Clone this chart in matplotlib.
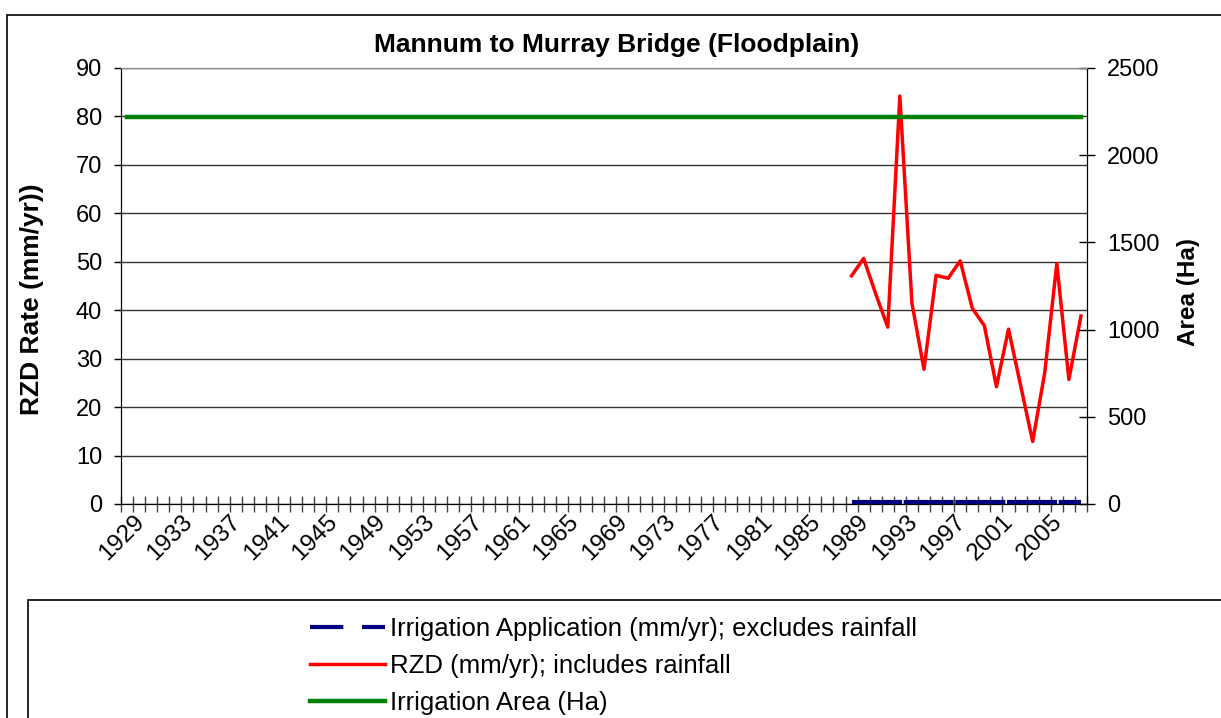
import numpy as np
import matplotlib
matplotlib.use('Agg')
import matplotlib.pyplot as plt
from matplotlib.lines import Line2D
from matplotlib.patches import Rectangle
from matplotlib.transforms import ScaledTranslation

plt.rcParams['font.family'] = ['Liberation Sans', 'DejaVu Sans']

# data
years = list(range(1929, 2009))
rzd_years = list(range(1989, 2009))
rzd = [47.1, 50.7, 43.4, 36.5, 84.2, 41.5, 27.8, 47.2, 46.6, 50.2,
       40.4, 36.8, 24.2, 36.1, 24.5, 12.9, 27.1, 49.6, 25.7, 38.8]
irrig_app = [0.5] * len(rzd_years)
irrig_area = [2220] * len(years)
tick_labels = [str(y) for y in years[::4]]

W, H = 1221, 718
fig = plt.figure(figsize=(W / 100, H / 100), dpi=100)

# outer chart border and legend box (cut off by the image edge)
fig.patches.append(Rectangle((7 / W, -0.1), 1.2, 1 - 15 / H + 0.1, transform=fig.transFigure,
                             fill=False, edgecolor='black', lw=1.2))
fig.patches.append(Rectangle((28 / W, -0.1), 1.2, (718 - 600) / H + 0.1, transform=fig.transFigure,
                             fill=False, edgecolor='black', lw=1.2))

left, right, top, bottom = 121, 1087, 68, 504
ax = fig.add_axes([left / W, (H - bottom) / H, (right - left) / W, (bottom - top) / H])
ax2 = ax.twinx()

xi = {y: i for i, y in enumerate(years)}
rx = [xi[y] for y in rzd_years]

l1, = ax.plot(rx, irrig_app, color='#000080', lw=3, ls=(0, (12, 0.4)), zorder=4)
l2, = ax.plot(rx, rzd, color='#ff0000', lw=2.5, zorder=5)
l3, = ax2.plot(range(len(years)), irrig_area, color='#008000', lw=3.2)

ax.set_xlim(-0.5, len(years) - 0.5)
ax.set_ylim(0, 90)
ax2.set_ylim(0, 2500)
ax.set_yticks(range(0, 91, 10))
ax2.set_yticks(range(0, 2501, 500))
ax.yaxis.grid(True, color='#333333', lw=1)
ax.set_axisbelow(True)

ax.set_xticks(np.arange(-0.5, len(years), 1.0))
ax.set_xticklabels([])
ax.set_xticks(range(0, len(years), 4), minor=True)
ax.set_xticklabels(tick_labels, minor=True, rotation=45, ha='right', va='top',
                   rotation_mode='anchor', fontsize=17.5)
ax.tick_params(axis='x', which='major', direction='inout', length=11.5, width=1, color='#444444')
ax.tick_params(axis='x', which='minor', length=0, pad=5)
for lab in ax.xaxis.get_minorticklabels():
    lab.set_transform(lab.get_transform() + ScaledTranslation(0.06, 0, fig.dpi_scale_trans))
ax.tick_params(axis='y', direction='out', length=5, width=1, pad=8.5, labelsize=17)
ax2.tick_params(axis='y', direction='inout', length=12, width=1, pad=8.5, labelsize=17)

for a in (ax, ax2):
    a.spines['top'].set_color('#888888')
    a.spines['left'].set_color('black')
    a.spines['right'].set_color('black')
    a.spines['bottom'].set_color('black')

ax.set_ylabel('RZD Rate (mm/yr))', fontsize=19, fontweight='bold')
ax.yaxis.set_label_coords((44 - left) / (right - left), (bottom - 299) / (bottom - top))
ax2.set_ylabel('Area (Ha)', fontsize=17.5, fontweight='bold')
ax2.yaxis.set_label_coords((1177 - left) / (right - left), (bottom - 292) / (bottom - top))
fig.text(617 / W, 1 - 45 / H, 'Mannum to Murray Bridge (Floodplain)', ha='center', va='center',
         fontsize=19, fontweight='bold')

h1 = Line2D([], [], color='#000080', lw=3, ls=(0, (8, 4.5)))
leg = fig.legend([h1, l2, l3],
                 ['Irrigation Application (mm/yr); excludes rainfall',
                  'RZD (mm/yr); includes rainfall',
                  'Irrigation Area (Ha)'],
                 loc='upper left', bbox_to_anchor=(287 / W, 1 - 594 / H), frameon=False,
                 fontsize=18.5, handlelength=2.9, handletextpad=0.2, labelspacing=0.5)

fig.savefig('out.png', dpi=100)
